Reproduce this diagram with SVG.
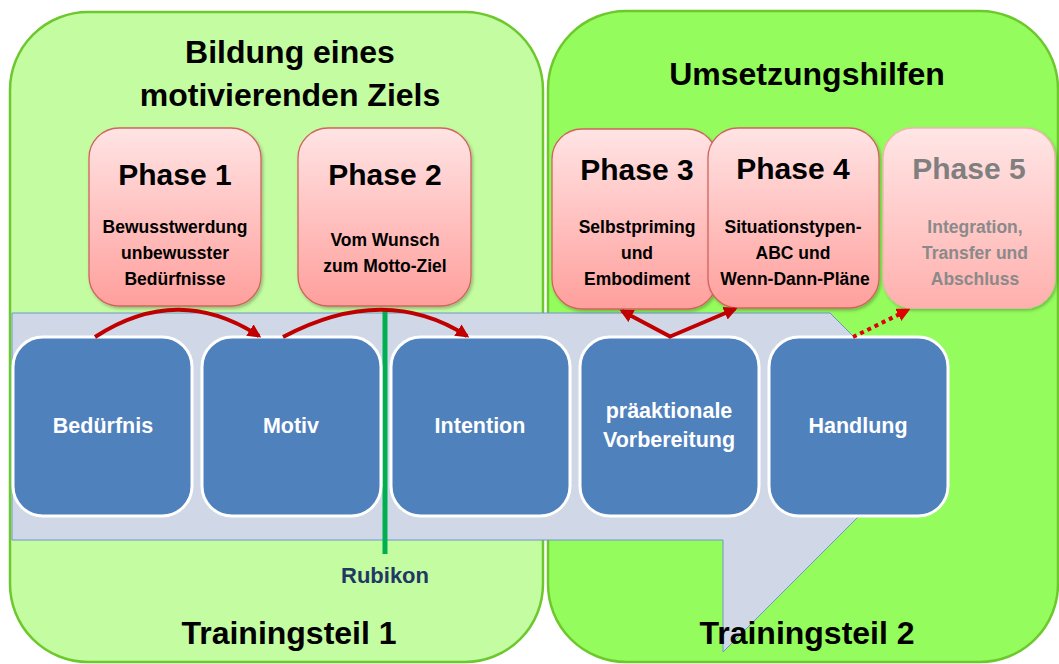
<svg xmlns="http://www.w3.org/2000/svg" width="1059" height="664" viewBox="0 0 1059 664">
<defs>
<linearGradient id="pg" x1="0" y1="0" x2="0" y2="1">
<stop offset="0" stop-color="#FFE4E4"/>
<stop offset="1" stop-color="#FF9F9C"/>
</linearGradient>
<linearGradient id="pg5" x1="0" y1="0" x2="0" y2="1">
<stop offset="0" stop-color="#FFE6E6"/>
<stop offset="1" stop-color="#FFB0AD"/>
</linearGradient>
<marker id="ah" viewBox="0 0 10 10" refX="8" refY="5" markerWidth="3.4" markerHeight="3.4" orient="auto" markerUnits="strokeWidth">
<path d="M0,0 L10,5 L0,10 z" fill="#C00000"/>
</marker>
<marker id="ahd" viewBox="0 0 10 10" refX="8" refY="5" markerWidth="3.4" markerHeight="3.4" orient="auto" markerUnits="strokeWidth">
<path d="M0,0 L10,5 L0,10 z" fill="#E00000"/>
</marker>
<filter id="sh" x="-10%" y="-10%" width="130%" height="130%">
<feDropShadow dx="1.5" dy="2" stdDeviation="1.5" flood-color="#000" flood-opacity="0.25"/>
</filter>
</defs>
<style>
text{font-family:"Liberation Sans",Arial,sans-serif;font-weight:bold;text-anchor:middle}
.panelL{fill:#C4FCA1;stroke:#6DC82D;stroke-width:2.5}
.panelR{fill:#94FC5C;stroke:#6DC82D;stroke-width:2.5}
.head{font-size:32px;fill:#000}
.phase{fill:url(#pg);stroke:#D0645F;stroke-width:1.3}
.pt{font-size:30px;fill:#000}
.ps{font-size:17.5px;fill:#000}
.blue{fill:#4F81BD;stroke:#FFFFFF;stroke-width:3}
.bt{font-size:21.5px;fill:#FFFFFF}
.arr{fill:none;stroke:#C00000;stroke-width:4}
</style>

<g id="panel-left">
<rect class="panelL" x="10" y="12" width="533" height="650" rx="78" ry="78"/>
<text class="head" x="290" y="63">Bildung eines</text>
<text class="head" x="290" y="106">motivierenden Ziels</text>
<text class="head" x="289" y="644">Trainingsteil 1</text>
</g>

<g id="panel-right">
<rect class="panelR" x="548" y="11" width="510" height="651" rx="78" ry="78"/>
<text class="head" x="807" y="85">Umsetzungshilfen</text>
</g>

<g id="band">
<path d="M12,313 L830,313 L946,429 L723,652 L723,540 L12,540 Z" fill="#D0D8E8" stroke="#6F96CC" stroke-width="1"/>
</g>

<g id="trainingsteil2">
<text class="head" x="807" y="644">Trainingsteil 2</text>
</g>

<g id="rubikon">
<line x1="385" y1="308" x2="385" y2="554" stroke="#00B050" stroke-width="5"/>
<text x="385" y="583" style="font-size:22px;fill:#1F3864">Rubikon</text>
</g>

<g id="node-beduerfnis">
<rect class="blue" x="13" y="337" width="179" height="179" rx="30"/>
<text class="bt" x="103" y="433">Bedürfnis</text>
</g>
<g id="node-motiv">
<rect class="blue" x="202" y="337" width="179" height="179" rx="30"/>
<text class="bt" x="291" y="433">Motiv</text>
</g>
<g id="node-intention">
<rect class="blue" x="391" y="337" width="179" height="179" rx="30"/>
<text class="bt" x="480" y="433">Intention</text>
</g>
<g id="node-praeaktionale">
<rect class="blue" x="580" y="337" width="179" height="179" rx="30"/>
<text class="bt" x="669" y="418">präaktionale</text>
<text class="bt" x="669" y="447">Vorbereitung</text>
</g>
<g id="node-handlung">
<rect class="blue" x="769" y="337" width="179" height="179" rx="30"/>
<text class="bt" x="858" y="433">Handlung</text>
</g>

<g id="phase1">
<rect class="phase" x="89" y="128" width="172" height="178" rx="30" filter="url(#sh)"/>
<text class="pt" x="175" y="185">Phase 1</text>
<text class="ps" x="175" y="233">Bewusstwerdung</text>
<text class="ps" x="175" y="259">unbewusster</text>
<text class="ps" x="175" y="285">Bedürfnisse</text>
</g>
<g id="phase2">
<rect class="phase" x="298" y="128" width="173" height="178" rx="30" filter="url(#sh)"/>
<text class="pt" x="385" y="185">Phase 2</text>
<text class="ps" x="385" y="246">Vom Wunsch</text>
<text class="ps" x="385" y="272">zum Motto-Ziel</text>
</g>
<g id="phase3">
<rect class="phase" x="552" y="129" width="165" height="180" rx="30" filter="url(#sh)"/>
<text class="pt" x="637" y="180">Phase 3</text>
<text class="ps" x="637" y="233">Selbstpriming</text>
<text class="ps" x="637" y="259">und</text>
<text class="ps" x="637" y="285">Embodiment</text>
</g>
<g id="phase4">
<rect class="phase" x="708" y="128" width="171" height="180" rx="30" filter="url(#sh)"/>
<text class="pt" x="793" y="179">Phase 4</text>
<text class="ps" x="793" y="233">Situationstypen-</text>
<text class="ps" x="793" y="259">ABC und</text>
<text class="ps" x="795" y="285">Wenn-Dann-Pläne</text>
</g>
<g id="phase5">
<rect x="883" y="128" width="172" height="180" rx="30" fill="url(#pg5)" stroke="#F2B4B0" stroke-width="1.3" filter="url(#sh)"/>
<text class="pt" x="969" y="179" style="fill:#7F7F7F">Phase 5</text>
<text class="ps" x="975" y="233" style="fill:#8A8A8A">Integration,</text>
<text class="ps" x="975" y="259" style="fill:#8A8A8A">Transfer und</text>
<text class="ps" x="975" y="285" style="fill:#8A8A8A">Abschluss</text>
</g>

<g id="connectors">
<path class="arr" d="M95,337 Q178,283 259,336" marker-end="url(#ah)"/>
<path class="arr" d="M283,337 Q385,283 467,336" marker-end="url(#ah)"/>
<path class="arr" d="M671,337 L622,311" marker-end="url(#ah)"/>
<path class="arr" d="M669,337 L735,309" marker-end="url(#ah)"/>
<path d="M853,337 L908,310" fill="none" stroke="#E00000" stroke-width="4" stroke-dasharray="4,4" marker-end="url(#ahd)"/>
</g>
</svg>
